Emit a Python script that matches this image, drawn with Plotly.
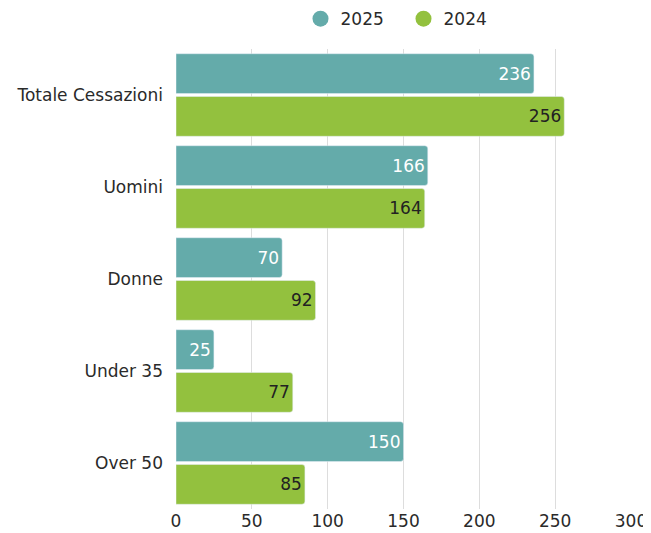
import plotly.graph_objects as go

categories = ["Totale Cessazioni", "Uomini", "Donne", "Under 35", "Over 50"]
values_2025 = [236, 166, 70, 25, 150]
values_2024 = [256, 164, 92, 77, 85]
series_names = ["2025", "2024"]
tick_values = [0, 50, 100, 150, 200, 250, 300]

teal = "#64abaa"
green = "#93c13e"
font_family = "DejaVu Sans, sans-serif"

fig = go.Figure()
fig.add_trace(go.Bar(
    y=categories, x=values_2025, orientation="h", name=series_names[0],
    marker=dict(color=teal), text=values_2025, textposition="inside",
    insidetextanchor="end", textfont=dict(color="white", size=17),
    showlegend=False,
))
fig.add_trace(go.Bar(
    y=categories, x=values_2024, orientation="h", name=series_names[1],
    marker=dict(color=green), text=values_2024, textposition="inside",
    insidetextanchor="end", textfont=dict(color="#222222", size=17),
    showlegend=False,
))
for name, col in zip(series_names, [teal, green]):
    fig.add_trace(go.Scatter(
        x=[None], y=[None], mode="markers", name=name,
        marker=dict(color=col, size=18, symbol="circle"),
    ))

# page body has an 8px margin, so the figure is sized/offset accordingly
fig.update_layout(
    width=643, height=525,
    barmode="group", bargap=0.07, bargroupgap=0.07,
    barcornerradius=3,
    margin=dict(l=168, r=20, t=41, b=24, autoexpand=False),
    paper_bgcolor="white", plot_bgcolor="white",
    font=dict(family=font_family, size=17, color="#2a2a2a"),
    legend=dict(orientation="h", x=0.5, xanchor="center", y=1.065, yanchor="middle",
                yref="paper", font=dict(size=17), itemsizing="trace",
                itemwidth=30, entrywidth=58, entrywidthmode="pixels"),
    xaxis=dict(range=[0, 300], tickvals=tick_values, showgrid=True,
               gridcolor="#dddddd", zeroline=False, showline=False,
               tickfont=dict(size=17), fixedrange=True, automargin=False),
    yaxis=dict(categoryorder="array", categoryarray=categories,
               autorange="reversed", showgrid=False, ticks="", ticklabelstandoff=12,
               tickfont=dict(size=17), automargin=False),
)
fig.write_html("out.html")
